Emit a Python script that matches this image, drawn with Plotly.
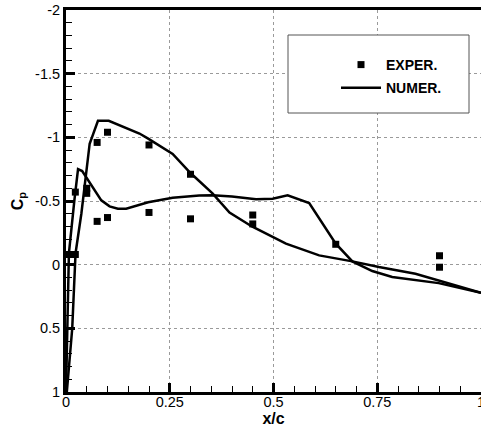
import plotly.graph_objects as go

# Experimental data
exp_x = [0.0075, 0.0225, 0.0225, 0.05, 0.05, 0.075, 0.075, 0.1, 0.1, 0.2, 0.2, 0.3, 0.3, 0.45, 0.45, 0.65, 0.9, 0.9]
exp_cp = [-0.08, -0.08, -0.57, -0.60, -0.56, -0.96, -0.34, -1.04, -0.37, -0.94, -0.41, -0.71, -0.36, -0.39, -0.32, -0.16, -0.07, 0.02]

# Numerical curve, surface 1
num1_x = [0.002, 0.015, 0.023, 0.037, 0.057, 0.077, 0.103, 0.153, 0.177, 0.198, 0.257, 0.300, 0.353, 0.394, 0.448, 0.530, 0.610, 0.690, 0.754, 0.842, 0.898, 1.0]
num1_cp = [1.0, 0.5, -0.09, -0.40, -0.95, -1.13, -1.13, -1.06, -1.03, -0.99, -0.87, -0.72, -0.56, -0.41, -0.30, -0.165, -0.073, -0.026, 0.019, 0.071, 0.125, 0.22]

# Numerical curve, surface 2
num2_x = [0.0, 0.004, 0.007, 0.020, 0.029, 0.039, 0.065, 0.085, 0.105, 0.125, 0.145, 0.198, 0.257, 0.321, 0.353, 0.400, 0.458, 0.498, 0.534, 0.586, 0.650, 0.690, 0.738, 0.786, 0.898, 1.0]
num2_cp = [1.0, 0.5, -0.09, -0.50, -0.75, -0.735, -0.61, -0.505, -0.458, -0.44, -0.44, -0.49, -0.526, -0.544, -0.545, -0.535, -0.513, -0.518, -0.544, -0.484, -0.165, -0.026, 0.05, 0.097, 0.145, 0.22]

x_tickvals = [0, 0.25, 0.5, 0.75, 1]
x_ticktext = ["0", "0.25", "0.5", "0.75", "1"]
y_tickvals = [-2, -1.5, -1, -0.5, 0, 0.5, 1]
y_ticktext = ["-2", "-1.5", "-1", "-0.5", "0", "0.5", "1"]

FONT = "Liberation Sans, Arial, Helvetica, sans-serif"

fig = go.Figure()
fig.add_trace(go.Scatter(x=num1_x, y=num1_cp, mode="lines", name="NUMER.",
                         line=dict(color="black", width=2.5), legendrank=2, legendgroup="b"))
fig.add_trace(go.Scatter(x=num2_x, y=num2_cp, mode="lines", name="NUMER.",
                         line=dict(color="black", width=2.5), showlegend=False, legendgroup="b"))
fig.add_trace(go.Scatter(x=exp_x, y=exp_cp, mode="markers", name="EXPER.",
                         marker=dict(symbol="square", size=7, color="black"), legendrank=1, legendgroup="a"))

axis_common = dict(
    showline=True, linecolor="black", linewidth=3,
    ticks="inside", ticklen=9, tickwidth=2.5, tickcolor="black",
    showgrid=True, gridcolor="#9a9a9a", gridwidth=1, griddash="dot",
    zeroline=False, ticklabeloverflow="allow",
    tickfont=dict(family=FONT, size=14.5, color="black"),
)

fig.update_xaxes(range=[0, 1], tickvals=x_tickvals, ticktext=x_ticktext, mirror=True,
                 ticklabelstandoff=-5,
                 minor=dict(ticks="inside", ticklen=6, tickwidth=1, tickcolor="black", dtick=0.05, showgrid=False),
                 title=dict(text="x/c", font=dict(family=FONT, size=16, color="black", weight="bold"), standoff=9),
                 **axis_common)
fig.update_yaxes(range=[1, -2], tickvals=y_tickvals, ticktext=y_ticktext, mirror=False,
                 minor=dict(ticks="inside", ticklen=6, tickwidth=1, tickcolor="black", dtick=0.1, showgrid=False),
                 title=dict(text="C<sub>p</sub>", font=dict(family=FONT, size=16, color="black", weight="bold"), standoff=8),
                 **axis_common)

# legend frame (decoration)
W, H = 481, 427
ml, mr, mt, mb = 66, 0, 10, 35
pw, ph = W - ml - mr, H - mt - mb
def px2paper_x(p): return (p - ml) / pw
def px2paper_y(p): return 1 - (p - mt) / ph

fig.add_shape(type="rect", xref="paper", yref="paper",
              x0=px2paper_x(288), x1=px2paper_x(469), y0=px2paper_y(113), y1=px2paper_y(35),
              line=dict(color="#555555", width=1), fillcolor="white", layer="above")

fig.update_layout(
    width=W, height=H,
    margin=dict(l=ml, r=mr, t=mt, b=mb, autoexpand=False),
    plot_bgcolor="white", paper_bgcolor="white",
    showlegend=True,
    legend=dict(x=px2paper_x(336), y=px2paper_y(49), xanchor="left", yanchor="top",
                bgcolor="rgba(0,0,0,0)", borderwidth=0, itemwidth=40,
                traceorder="grouped", tracegroupgap=2,
                font=dict(family=FONT, size=14, color="black", weight="bold")),
)

fig.write_html("out.html")
